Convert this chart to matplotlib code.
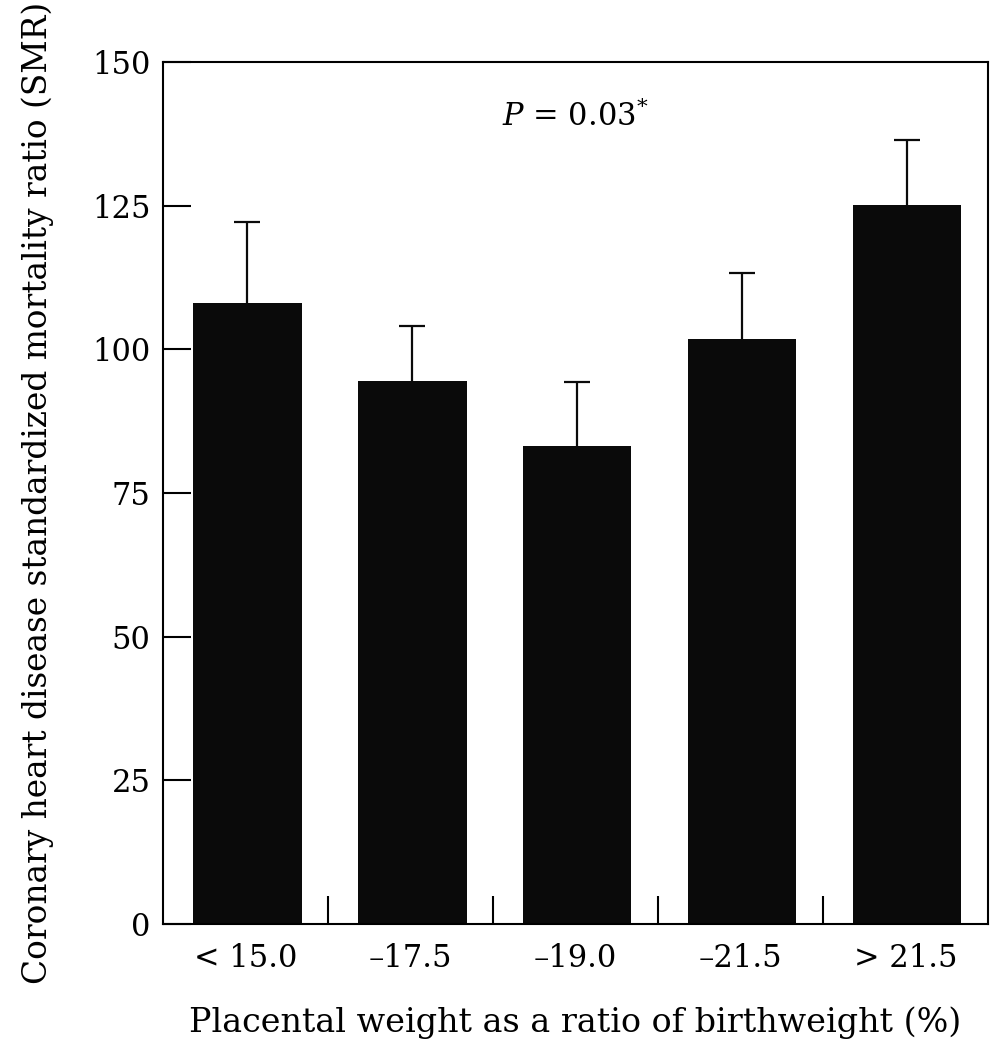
import numpy as np
import matplotlib
matplotlib.use("Agg")
import matplotlib.pyplot as plt

plt.rcParams['font.family'] = ['DejaVu Serif']
plt.rcParams['mathtext.fontset'] = 'dejavuserif'

categories = ['< 15.0', '\u201317.5', '\u201319.0', '\u201321.5', '> 21.5']
smr = [108, 94.5, 83.2, 101.8, 125.1]
upper = [122.2, 104.0, 94.3, 113.3, 136.4]   # top of error bars
yticks = [0, 25, 50, 75, 100, 125, 150]

x = np.arange(len(categories))
err_up = np.array(upper) - np.array(smr)

fig = plt.figure(figsize=(9.95, 10.5), dpi=100)
ax = fig.add_axes([0.1638, 0.12, 0.829, 0.821])

ax.bar(x + 0.01, smr, width=0.66, color='#0a0a0a')
eb = ax.errorbar(x + 0.01, smr, yerr=[np.zeros(len(x)), err_up], fmt='none',
                 ecolor='#0a0a0a', elinewidth=1.6, capsize=9.5, capthick=1.6)
eb[1][0].set_visible(False)   # only the upper cap

ax.set_xlim(-0.5, len(categories) - 0.5)
ax.set_ylim(0, 150)

# y ticks inward on the left only
ax.set_yticks(yticks)
ax.tick_params(axis='y', direction='in', length=20, width=1.5, labelsize=22, pad=9,
               right=False)
# x ticks between categories, labels at the centres
ax.set_xticks(x[:-1] + 0.5)
ax.set_xticklabels([])
ax.set_xticks(x, minor=True)
ax.set_xticklabels(categories, minor=True)
ax.tick_params(axis='x', which='major', direction='in', length=20, width=1.5, top=False)
ax.tick_params(axis='x', which='minor', length=0, labelsize=22, pad=14)

for s in ax.spines.values():
    s.set_linewidth(1.5)

ax.set_xlabel('Placental weight as a ratio of birthweight (%)', fontsize=24, labelpad=23)
ax.set_ylabel('Coronary heart disease standardized mortality ratio (SMR)', fontsize=23.6,
              labelpad=27)

ax.text(2.0, 140.5, r'$\it{P}$ = 0.03$^{*}$', ha='center', va='center', fontsize=22)

fig.savefig('out.png', dpi=100)
